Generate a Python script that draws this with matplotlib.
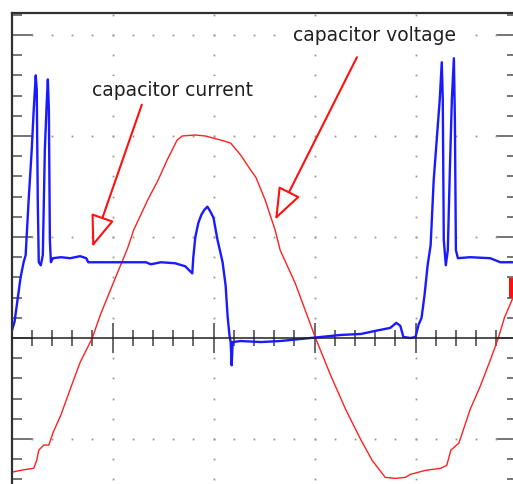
# -*- coding: utf-8 -*-

# Imports #####################################################

import matplotlib.pyplot as plt
import numpy
from matplotlib.patches import Rectangle
from matplotlib.ticker import MultipleLocator, NullFormatter


# Data (screen divisions) #####################################

# capacitor current (blue trace)
corrente_t = [0.00, 0.03, 0.06, 0.09, 0.12, 0.14, 0.17, 0.20, 0.22, 0.24, 0.25, 0.26,
              0.27, 0.29, 0.31, 0.33, 0.35, 0.36, 0.37, 0.38, 0.39, 0.41, 0.49, 0.58,
              0.68, 0.74, 0.76, 0.88, 1.08, 1.33, 1.38, 1.48, 1.62, 1.72, 1.79, 1.80,
              1.82, 1.85, 1.88, 1.91, 1.94, 1.97, 2.00, 2.04, 2.09, 2.12, 2.14, 2.16,
              2.17, 2.18, 2.19, 2.27, 2.47, 2.66, 2.86, 3.06, 3.26, 3.46, 3.60, 3.75,
              3.81, 3.85, 3.88, 3.95, 4.00, 4.03, 4.06, 4.09, 4.12, 4.15, 4.18, 4.21,
              4.24, 4.26, 4.27, 4.28, 4.30, 4.32, 4.34, 4.36, 4.38, 4.39, 4.40, 4.42,
              4.54, 4.74, 4.84, 4.97]
corrente_v = [0.06, 0.16, 0.38, 0.60, 0.75, 0.82, 1.37, 1.86, 2.26, 2.60, 2.46, 1.37,
              0.75, 0.72, 0.82, 1.86, 2.36, 2.56, 2.26, 0.97, 0.75, 0.79, 0.80, 0.79,
              0.81, 0.79, 0.75, 0.75, 0.75, 0.75, 0.73, 0.75, 0.74, 0.71, 0.64, 0.80,
              1.00, 1.14, 1.22, 1.27, 1.30, 1.25, 1.19, 0.97, 0.75, 0.52, 0.21, 0.01,
              -0.04, -0.27, -0.04, -0.03, -0.04, -0.03, -0.01, 0.01, 0.03, 0.04, 0.07, 0.10,
              0.15, 0.12, 0.01, 0.00, 0.01, 0.13, 0.20, 0.43, 0.72, 0.92, 1.56, 1.96,
              2.36, 2.73, 2.36, 0.97, 0.72, 0.87, 1.66, 2.36, 2.77, 2.16, 0.87, 0.79,
              0.80, 0.79, 0.75, 0.75]

# capacitor voltage (red trace)
tensao_t = [0.00, 0.09, 0.22, 0.25, 0.27, 0.32, 0.37, 0.41, 0.49, 0.58, 0.68, 0.80,
            0.88, 1.01, 1.15, 1.21, 1.35, 1.45, 1.54, 1.64, 1.69, 1.82, 1.92, 2.07,
            2.17, 2.27, 2.37, 2.42, 2.51, 2.61, 2.66, 2.81, 3.01, 3.16, 3.31, 3.46,
            3.57, 3.70, 3.80, 3.90, 3.95, 4.10, 4.25, 4.31, 4.35, 4.43, 4.54, 4.64,
            4.74, 4.82, 4.88, 4.97]
tensao_v = [-1.33, -1.31, -1.29, -1.21, -1.11, -1.06, -1.06, -0.94, -0.76, -0.51, -0.24, 0.00,
            0.23, 0.55, 0.89, 1.07, 1.37, 1.56, 1.76, 1.96, 2.00, 2.01, 2.00, 1.96,
            1.93, 1.81, 1.66, 1.59, 1.37, 1.07, 0.87, 0.54, 0.00, -0.37, -0.71, -1.01,
            -1.21, -1.38, -1.39, -1.38, -1.35, -1.31, -1.29, -1.26, -1.11, -1.04, -0.71, -0.48,
            -0.22, 0.00, 0.20, 0.41]


# Plot ########################################################

W, H = 513, 484
fig = plt.figure(figsize=(W / 100, H / 100), dpi=100)

# screen geometry: 1 division = 101 px, x=0 at px 11.5, y=0 at px 338
div = 101.0
x_lo, x_hi = 0.0, 5.0
y_lo, y_hi = -1.8, 3.22
esq = 11.5
topo = 338 - y_hi * div
base = 338 - y_lo * div
ax = fig.add_axes([esq / W, (H - base) / H, (x_hi - x_lo) * div / W, (base - topo) / H])
ax.set_xlim(x_lo, x_hi)
ax.set_ylim(y_lo, y_hi)
ax.set_facecolor('white')

# frame + centre line (bottom spine moved to y=0)
for lado in ['left', 'top', 'right']:
    ax.spines[lado].set_color('#303030')
    ax.spines[lado].set_linewidth(1.6)
ax.spines['bottom'].set_position(('data', 0))
ax.spines['bottom'].set_color('#202020')
ax.spines['bottom'].set_linewidth(1.1)

ax.xaxis.set_major_locator(MultipleLocator(1))
ax.xaxis.set_minor_locator(MultipleLocator(0.2))
ax.yaxis.set_major_locator(MultipleLocator(1))
ax.yaxis.set_minor_locator(MultipleLocator(0.2))
ax.xaxis.set_major_formatter(NullFormatter())
ax.yaxis.set_major_formatter(NullFormatter())
ax.tick_params(axis='x', which='major', direction='inout', length=21, width=1.1, color='#404040')
ax.tick_params(axis='x', which='minor', direction='inout', length=11.5, width=1.1, color='#404040')
ax.tick_params(axis='y', which='major', direction='in', length=15, width=1.1, color='#505050',
               left=True, right=True)
ax.tick_params(axis='y', which='minor', direction='in', length=7, width=1.1, color='#505050',
               left=True, right=True)

# dotted grid
passos = numpy.arange(0.2, 5.0, 0.2)
for yl in [-1, 1, 2, 3]:
    ax.plot(passos, numpy.full(len(passos), yl), 's', ms=1.3, color='#999999', mew=0)
passos_y = numpy.arange(-1.8, 3.3, 0.2)
passos_y = passos_y[numpy.abs(passos_y) > 0.05]
for xl in [1, 2, 3, 4]:
    ax.plot(numpy.full(len(passos_y), xl), passos_y, 's', ms=1.3, color='#999999', mew=0)

# traces
ax.plot(tensao_t, tensao_v, color='#ff2020', lw=1.0)
ax.plot(corrente_t, corrente_v, color='#1a1aff', lw=1.7)

# channel marker
ax.add_patch(Rectangle((4.93, 0.40), 0.07, 0.19, color='#ff1010', lw=0))

# labels and arrows
caixa = dict(fc='white', ec='none', pad=3)
ax.text(0.80, 2.40, 'capacitor current', fontsize=13.5, color='#202020',
        ha='left', va='baseline', bbox=caixa)
ax.text(2.79, 2.94, 'capacitor voltage', fontsize=13.5, color='#202020',
        ha='left', va='baseline', bbox=caixa)

seta = dict(arrowstyle='-|>,head_length=2.0,head_width=0.75', mutation_scale=10,
            color='#ff1010', fc='white', lw=1.5, shrinkA=0, shrinkB=0)
ax.annotate('', xy=(0.80, 0.90), xytext=(1.29, 2.31), arrowprops=seta)
ax.annotate('', xy=(2.61, 1.17), xytext=(3.42, 2.78), arrowprops=seta)

plt.savefig('out.png', dpi=100)
